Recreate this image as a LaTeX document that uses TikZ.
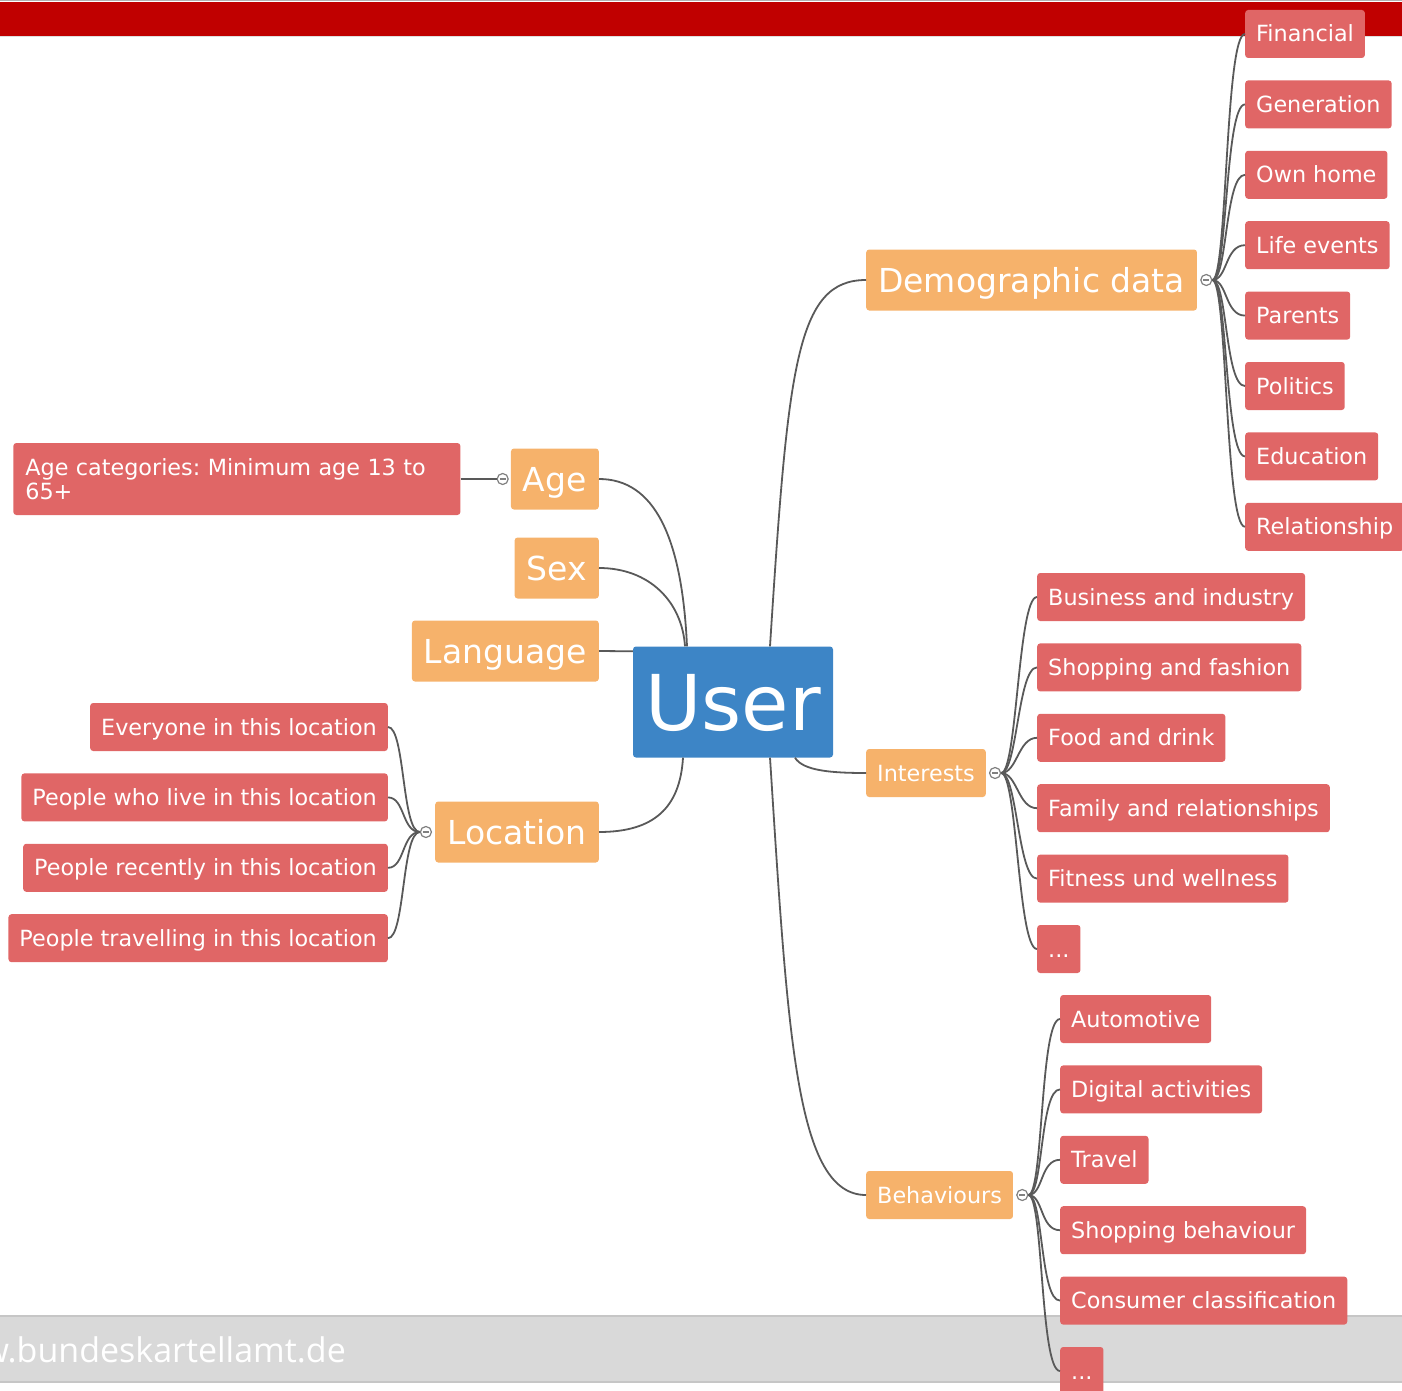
\documentclass[tikz,border=0pt]{standalone}
\usepackage{fontspec}
\setmainfont{DejaVu Sans}
\newfontfamily\webfont{Open Sans}
\usetikzlibrary{positioning}
\frenchspacing
\definecolor{barred}{HTML}{C00000}
\definecolor{leafred}{HTML}{E06666}
\definecolor{topicorange}{HTML}{F6B26B}
\definecolor{userblue}{HTML}{3D85C6}
\definecolor{linkgray}{HTML}{595959}
\definecolor{footgray}{HTML}{D9D9D9}
\tikzset{
  leaf/.style={fill=leafred, text=white, rounded corners=3pt, inner xsep=11pt, inner ysep=0pt,
    minimum height=48pt, text height=17pt, text depth=1pt, font=\fontsize{22.3}{24}\selectfont},
  subtopic/.style={leaf, fill=topicorange},
  topic/.style={fill=topicorange, text=white, rounded corners=3pt, inner xsep=12pt, inner ysep=0pt,
    minimum height=61pt, text height=24pt, text depth=0pt, font=\fontsize{33}{36}\selectfont},
  core/.style={fill=userblue, text=white, rounded corners=3pt, inner sep=0pt, minimum width=200pt,
    minimum height=111pt, text height=56pt, text depth=0pt, font=\fontsize{77}{80}\selectfont},
  note/.style={fill=leafred, text=white, rounded corners=3pt, inner xsep=12pt, inner ysep=0pt,
    minimum height=72pt, text width=423pt, align=left, font=\fontsize{22.3}{24}\selectfont},
  knob/.style={circle, draw=gray, fill=white, line width=1.2pt, minimum size=11pt, inner sep=0pt,
    path picture={\draw[gray, line width=1.2pt] ([xshift=2.5pt]path picture bounding box.west) -- ([xshift=-2.5pt]path picture bounding box.east);}},
  link/.style={draw=linkgray, line width=1.8pt}
}

\begin{document}
\begin{tikzpicture}[x=1pt, y=-1pt]
	\useasboundingbox (0,0) rectangle (1402,1391);
	\clip (0,0) rectangle (1402,1391);

	% header and footer bars
	\fill[barred] (0,2) rectangle (1402,36);
	\draw[gray!60] (0,0.5) -- (1402,0.5);
	\draw[gray!25, line width=1pt] (0,37) -- (1402,37);
	\fill[footgray] (0,1316) rectangle (1402,1382);
	\draw[gray!45, line width=2pt] (0,1316) -- (1402,1316);
	\draw[gray!45, line width=2pt] (0,1382) -- (1402,1382);
	\node (web) [anchor=base east, text=white, inner sep=0pt, font=\webfont\fontsize{34}{36}\selectfont] at (346,1362) {www.bundeskartellamt.de};

	% centre and topics
	\node (user) [core] at (733,702) {User};
	\node (demo) [topic, anchor=west] at (866,280) {Demographic data};
	\node (ints) [subtopic, anchor=west] at (866,773) {Interests};
	\node (behav) [subtopic, anchor=west] at (866,1195) {Behaviours};
	\node (age) [topic, anchor=east] at (599,479) {Age};
	\node (sex) [topic, below=89pt of age.east, anchor=east] {Sex};
	\node (lang) [topic, below=83pt of sex.east, anchor=east] {Language};
	\node (loc) [topic, anchor=east] at (599,832) {Location};

	\node (demoknob) [knob, right=3pt of demo] {};
	\node (intsknob) [knob, right=3pt of ints] {};
	\node (behavknob) [knob, right=3pt of behav] {};
	\node (ageknob) [knob, left=2pt of age] {};
	\node (locknob) [knob, left=3pt of loc] {};

	\node (agecat) [note, left=36pt of ageknob] {Age categories: Minimum age 13 to\\65+};

	% demographic data
	\node (fin) [leaf, anchor=west] at (1245,34) {Financial};
	\node (gen) [leaf, below=70.4pt of fin.west, anchor=west] {Generation};
	\node (home) [leaf, below=70.4pt of gen.west, anchor=west] {Own home};
	\node (life) [leaf, below=70.4pt of home.west, anchor=west] {Life events};
	\node (par) [leaf, below=70.4pt of life.west, anchor=west] {Parents};
	\node (pol) [leaf, below=70.4pt of par.west, anchor=west] {Politics};
	\node (edu) [leaf, below=70.4pt of pol.west, anchor=west] {Education};
	\node (rel) [leaf, below=70.4pt of edu.west, anchor=west] {Relationship};

	% interests
	\node (biz) [leaf, anchor=west] at (1037,597) {Business and industry};
	\node (shop) [leaf, below=70.4pt of biz.west, anchor=west] {Shopping and fashion};
	\node (food) [leaf, below=70.4pt of shop.west, anchor=west] {Food and drink};
	\node (fam) [leaf, below=70.4pt of food.west, anchor=west] {Family and relationships};
	\node (fit) [leaf, below=70.4pt of fam.west, anchor=west] {Fitness und wellness};
	\node (intsmore) [leaf, below=70.4pt of fit.west, anchor=west] {...};

	% behaviours
	\node (auto) [leaf, anchor=west] at (1060,1019) {Automotive};
	\node (digi) [leaf, below=70.4pt of auto.west, anchor=west] {Digital activities};
	\node (trav) [leaf, below=70.4pt of digi.west, anchor=west] {Travel};
	\node (shopb) [leaf, below=70.4pt of trav.west, anchor=west] {Shopping behaviour};
	\node (cons) [leaf, below=70.4pt of shopb.west, anchor=west] {Consumer classification};
	\node (behavmore) [leaf, below=70.4pt of cons.west, anchor=west] {...};

	% location
	\node (every) [leaf, anchor=east] at (388,727) {Everyone in this location};
	\node (live) [leaf, below=70.4pt of every.east, anchor=east] {People who live in this location};
	\node (recent) [leaf, below=70.4pt of live.east, anchor=east] {People recently in this location};
	\node (travel) [leaf, below=70.4pt of recent.east, anchor=east] {People travelling in this location};

	% links from the centre
	\draw [link] ([xshift=37pt]user.north) .. controls +(18,-280) and +(-70,0) .. (demo.west);
	\draw [link] ([xshift=62pt]user.south) .. controls +(8,13) and +(-35,0) .. (ints.west);
	\draw [link] ([xshift=37pt]user.south) .. controls +(18,280) and +(-70,0) .. (behav.west);
	\draw [link] (age.east) .. controls +(55,0) and +(-5,-110) .. ([xshift=-46pt]user.north);
	\draw [link] (sex.east) .. controls +(50,0) and +(-3,-45) .. ([xshift=-48pt]user.north);
	\draw [link] (lang.east) -- ([yshift=-5pt]user.north west);
	\draw [link] (loc.east) .. controls +(55,0) and +(-3,50) .. ([xshift=-50pt]user.south);
	\draw [link] (agecat.east) -- (ageknob.west);

	\draw [link] (demoknob.east) .. controls +(15,0) and +(-20,0) .. (fin.west);
	\draw [link] (demoknob.east) .. controls +(15,0) and +(-20,0) .. (gen.west);
	\draw [link] (demoknob.east) .. controls +(15,0) and +(-20,0) .. (home.west);
	\draw [link] (demoknob.east) .. controls +(15,0) and +(-20,0) .. (life.west);
	\draw [link] (demoknob.east) .. controls +(15,0) and +(-20,0) .. (par.west);
	\draw [link] (demoknob.east) .. controls +(15,0) and +(-20,0) .. (pol.west);
	\draw [link] (demoknob.east) .. controls +(15,0) and +(-20,0) .. (edu.west);
	\draw [link] (demoknob.east) .. controls +(15,0) and +(-20,0) .. (rel.west);

	\draw [link] (intsknob.east) .. controls +(16,0) and +(-19,0) .. (biz.west);
	\draw [link] (intsknob.east) .. controls +(16,0) and +(-19,0) .. (shop.west);
	\draw [link] (intsknob.east) .. controls +(16,0) and +(-19,0) .. (food.west);
	\draw [link] (intsknob.east) .. controls +(16,0) and +(-19,0) .. (fam.west);
	\draw [link] (intsknob.east) .. controls +(16,0) and +(-19,0) .. (fit.west);
	\draw [link] (intsknob.east) .. controls +(16,0) and +(-19,0) .. (intsmore.west);

	\draw [link] (behavknob.east) .. controls +(15,0) and +(-20,0) .. (auto.west);
	\draw [link] (behavknob.east) .. controls +(15,0) and +(-20,0) .. (digi.west);
	\draw [link] (behavknob.east) .. controls +(15,0) and +(-20,0) .. (trav.west);
	\draw [link] (behavknob.east) .. controls +(15,0) and +(-20,0) .. (shopb.west);
	\draw [link] (behavknob.east) .. controls +(15,0) and +(-20,0) .. (cons.west);
	\draw [link] (behavknob.east) .. controls +(15,0) and +(-20,0) .. (behavmore.west);

	\draw [link] (locknob.west) .. controls +(-18,0) and +(17,0) .. (every.east);
	\draw [link] (locknob.west) .. controls +(-18,0) and +(17,0) .. (live.east);
	\draw [link] (locknob.west) .. controls +(-18,0) and +(17,0) .. (recent.east);
	\draw [link] (locknob.west) .. controls +(-18,0) and +(17,0) .. (travel.east);
\end{tikzpicture}
\end{document}
